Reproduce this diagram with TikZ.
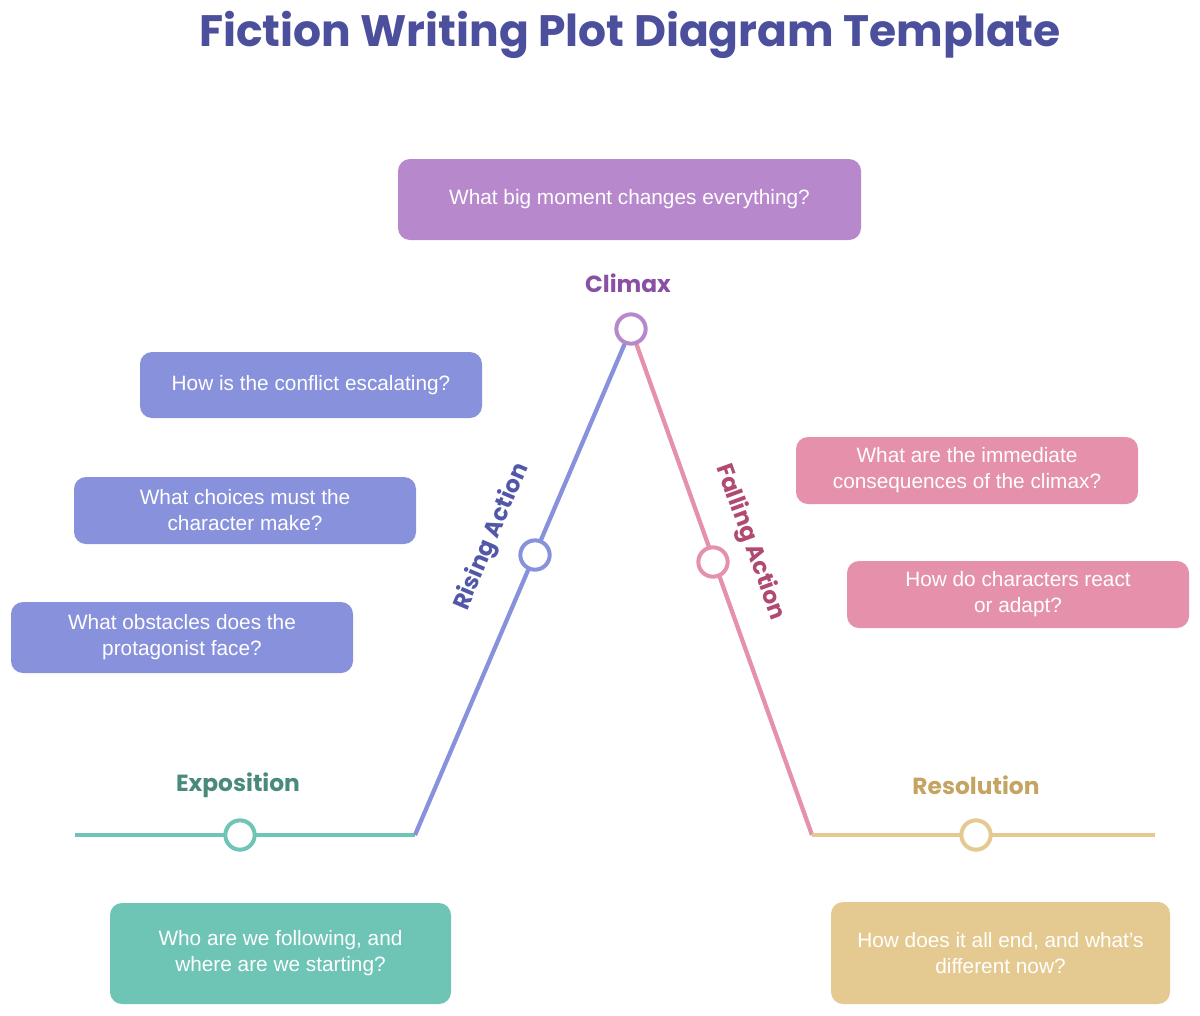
\documentclass[tikz,border=0pt]{standalone}
\usepackage{fontspec}
\setmainfont{Liberation Sans}
\newfontfamily\pop{Poppins}
\definecolor{ttl}{HTML}{4B4F9C}
\definecolor{teal}{HTML}{6EC4B5}
\definecolor{tealdk}{HTML}{4A8A7C}
\definecolor{blu}{HTML}{8891DC}
\definecolor{bludk}{HTML}{5258A8}
\definecolor{pnk}{HTML}{E591AB}
\definecolor{pnkdk}{HTML}{B04A72}
\definecolor{gld}{HTML}{E4CA90}
\definecolor{glddk}{HTML}{C4A462}
\definecolor{pur}{HTML}{B888CC}
\definecolor{purdk}{HTML}{8A50A2}
\begin{document}
\begin{tikzpicture}[x=0.75pt,y=-0.75pt,
  qbox/.style={rounded corners=9pt,text=white,font=\fontsize{15.6}{19.5}\selectfont,align=center,inner sep=0pt},
  lab/.style={font=\pop\bfseries\fontsize{17.5}{20}\selectfont},
  seg/.style={line width=3.2pt},
  dot/.style={circle,draw,fill=white,line width=3pt,minimum size=22pt,inner sep=0pt}]
\useasboundingbox (0,0) rectangle (1200,1015);
\node[font=\pop\bfseries\fontsize{33}{38}\selectfont,text=ttl] (title) at (630,35) {Fiction Writing Plot Diagram Template};
\coordinate (a) at (75,835); \coordinate (b) at (415,835);
\coordinate (c) at (631,329); \coordinate (d) at (812,835); \coordinate (e) at (1155,835);
\draw[seg,teal] (a) -- (b);
\draw[seg,blu] (b) -- (c);
\draw[seg,pnk] (c) -- (d);
\draw[seg,gld] (d) -- (e);
\node[dot,draw=teal] (d1) at (240,835) {};
\node[dot,draw=blu] (d2) at (535,555) {};
\node[dot,draw=pnk] (d3) at (713,562) {};
\node[dot,draw=pur] (d4) at (631,329) {};
\node[dot,draw=gld] (d5) at (976,835) {};
\node[lab,text=tealdk] (l1) at (238,785) {Exposition};
\node[lab,text=purdk] (l2) at (628,283) {Climax};
\node[lab,text=glddk] (l3) at (976,785) {Resolution};
\node[lab,text=bludk,rotate=67] (l4) at (492,537) {Rising Action};
\node[lab,text=pnkdk,rotate=-70] (l5) at (750,542) {Falling Action};
\newcommand\qb[7]{\fill[#1,rounded corners=9pt] (#2,#3) rectangle (#4,#5); \node[qbox] (#6) at ({(#2+#4)/2},{(#3+#5)/2}) {#7};}
\qb{pur}{398}{159}{861}{240}{q1}{What big moment changes everything?}
\qb{blu}{140}{352}{482}{418}{q2}{How is the conflict escalating?}
\qb{blu}{74}{477}{416}{544}{q3}{What choices must the\\character make?}
\qb{blu}{11}{602}{353}{673}{q4}{What obstacles does the\\protagonist face?}
\qb{pnk}{796}{437}{1138}{504}{q5}{What are the immediate\\consequences of the climax?}
\qb{pnk}{847}{561}{1189}{628}{q6}{How do characters react\\or adapt?}
\qb{teal}{110}{903}{451}{1004}{q7}{Who are we following, and\\where are we starting?}
\qb{gld}{831}{902}{1170}{1004}{q8}{How does it all end, and what's\\different now?}
\end{tikzpicture}
\end{document}
